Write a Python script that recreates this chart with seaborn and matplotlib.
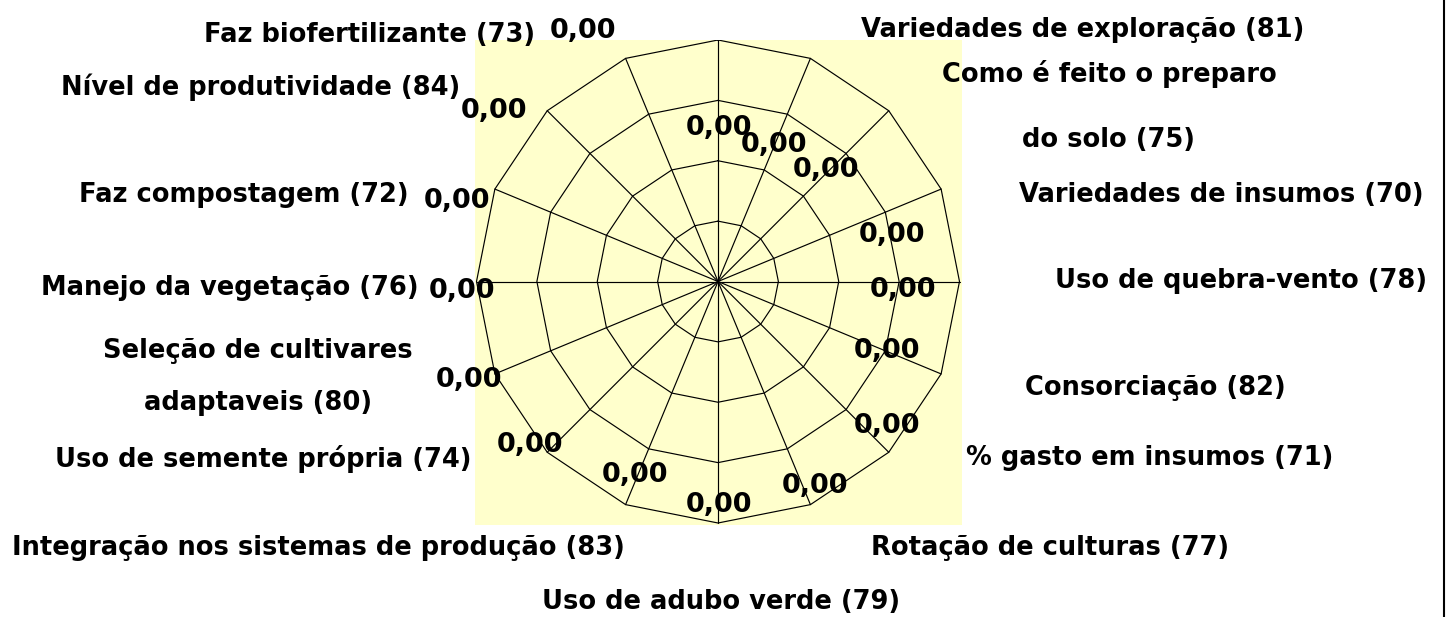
import numpy as np
import pandas as pd
import matplotlib
matplotlib.use("Agg")
import matplotlib.pyplot as plt
import seaborn as sns
from matplotlib.lines import Line2D

# ---------------- data ----------------
categories = [
    "",
    "Variedades de exploração (81)",
    "Como é feito o preparo\ndo solo (75)",
    "Variedades de insumos (70)",
    "Uso de quebra-vento (78)",
    "Consorciação (82)",
    "% gasto em insumos (71)",
    "Rotação de culturas (77)",
    "Uso de adubo verde (79)",
    "Integração nos sistemas de produção (83)",
    "Uso de semente própria (74)",
    "Seleção de cultivares\nadaptaveis (80)",
    "Manejo da vegetação (76)",
    "Faz compostagem (72)",
    "Nível de produtividade (84)",
    "Faz biofertilizante (73)",
]
values = [0.00, 0.00, 0.00, 0.00, 0.00, 0.00, 0.00, 0.00,
          0.00, 0.00, 0.00, 0.00, 0.00, 0.00, 0.00, 0.00]
ring_levels = [0.25, 0.50, 0.75, 1.00]
r_max = 1.00

# ---------------- layout (pixel positions) ----------------
W, H = 1451, 617
# category label: (center x, [baseline y per line])
cat_pos = [
    (718, []),
    (1083, [37]),
    (1109, [82, 147]),
    (1221, [202]),
    (1241, [288]),
    (1155, [395]),
    (1150, [465]),
    (1050, [555]),
    (721, [609]),
    (318, [555]),
    (263, [467]),
    (258, [358, 410]),
    (230, [295]),
    (244, [202]),
    (261, [95]),
    (370, [42]),
]
# data label: (center x, baseline y)
val_pos = [
    (719, 135), (774, 152), (826, 177), (892, 242),
    (903, 297), (887, 358), (887, 433), (815, 493),
    (719, 512), (635, 482), (530, 452), (469, 387),
    (462, 298), (457, 208), (494, 118), (583, 38),
]

sns.set_style("white")
plt.rcParams['font.family'] = ['DejaVu Sans']

fig = plt.figure(figsize=(W / 100, H / 100), dpi=100)
fig.patch.set_facecolor('white')


def fx(px):
    return px / W


def fy(py):
    return 1 - py / H


box_l, box_r, box_t, box_b = 475, 962, 40, 525
cx, cy, scale = 718, 281.5, 241.5
ax = fig.add_axes([fx(box_l), fy(box_b), (box_r - box_l) / W, (box_b - box_t) / H])
ax.set_facecolor('#FFFFCC')

n = len(categories)
angles = np.pi / 2 - 2 * np.pi * np.arange(n) / n

# polygon rings
for lvl in ring_levels:
    r = lvl / r_max
    xs = np.append(r * np.cos(angles), r * np.cos(angles[0]))
    ys = np.append(r * np.sin(angles), r * np.sin(angles[0]))
    ax.plot(xs, ys, color='black', lw=0.85, zorder=2)
# spokes
for a in angles:
    ax.plot([0, np.cos(a)], [0, np.sin(a)], color='black', lw=0.85, zorder=2)

# data series
rv = np.array(values) / r_max
px_ = rv * np.cos(angles)
py_ = rv * np.sin(angles)
df = pd.DataFrame({'x': np.append(px_, px_[0]), 'y': np.append(py_, py_[0])})
sns.lineplot(data=df, x='x', y='y', sort=False, estimator=None,
             color='#000080', lw=1.5, ax=ax, zorder=3)

ax.set_xlim(-(cx - box_l) / scale, (box_r - cx) / scale)
ax.set_ylim(-(box_b - cy) / scale, (cy - box_t) / scale)
ax.set_xlabel('')
ax.set_ylabel('')
ax.set_xticks([])
ax.set_yticks([])
for s in ax.spines.values():
    s.set_visible(False)

# data labels
for i in range(n):
    txt = f"{values[i]:.2f}".replace('.', ',')
    tx, ty = val_pos[i]
    ax.annotate(txt, xy=(px_[i], py_[i]), xycoords='data',
                xytext=(fx(tx), fy(ty)), textcoords='figure fraction',
                ha='center', va='baseline', fontsize=19.5, fontweight='bold',
                color='black', annotation_clip=False, zorder=5)

# category labels
for i, cat in enumerate(categories):
    if not cat:
        continue
    x, bases = cat_pos[i]
    for line, b in zip(cat.split('\n'), bases):
        fig.text(fx(x), fy(b), line, ha='center', va='baseline',
                 fontsize=18.5, fontweight='bold', color='black')

# right border line
fig.add_artist(Line2D([fx(1444), fx(1444)], [0, 1], color='black', lw=1.5,
                      transform=fig.transFigure))

fig.savefig('out.png', dpi=100, facecolor='white')
